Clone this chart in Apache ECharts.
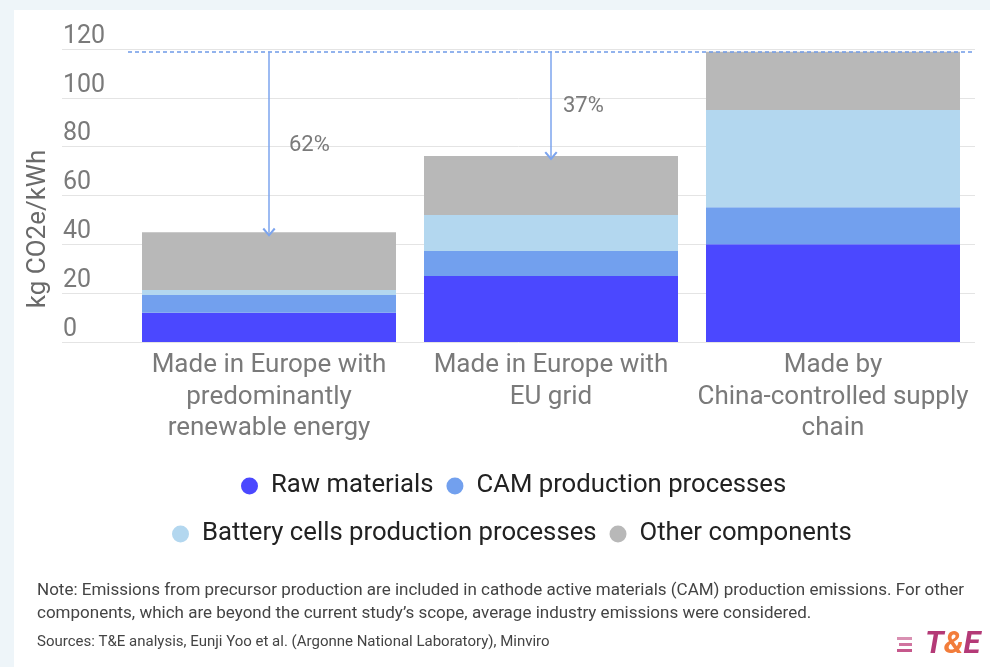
<!DOCTYPE html>
<html>
<head>
    <meta charset="UTF-8">
    <script type="text/javascript" src="https://cdn.jsdelivr.net/npm/echarts@6/dist/echarts.min.js"></script>
    <style>
        html, body { margin: 0; padding: 0; background: #eef5f9; }
        #panel { position: absolute; left: 14px; top: 10px; width: 976px; height: 657px; background: #ffffff; }
        #myDiv { position: absolute; left: 0; top: 0; width: 990px; height: 667px; }
    </style>
    <script type="text/javascript">
        var categories = [
            'Made in Europe with\npredominantly\nrenewable energy',
            'Made in Europe with\nEU grid',
            'Made by\nChina-controlled supply\nchain'
        ];
        var rawMaterials = [12, 27, 40];
        var camProcesses = [7.2, 10.3, 15.2];
        var batteryCells = [2.1, 14.7, 39.8];
        var otherComponents = [23.6, 24.2, 23.9];
        var reductionLabels = ['62%', '37%'];
        var yTicks = [0, 20, 40, 60, 80, 100, 120];

        var noteLine1 = 'Note: Emissions from precursor production are included in cathode active materials (CAM) production emissions. For other';
        var noteLine2 = 'components, which are beyond the current study\u2019s scope, average industry emissions were considered.';
        var sourcesLine = 'Sources: T&E analysis, Eunji Yoo et al. (Argonne National Laboratory), Minviro';

        window.onload = function () {
            drawChart();
        };

        function drawChart() {
            var totals = [];
            for (var i = 0; i < categories.length; i++) {
                totals.push(rawMaterials[i] + camProcesses[i] + batteryCells[i] + otherComponents[i]);
            }
            var top = Math.max.apply(null, totals);

            // arrows from the China level down to each European bar
            var labelGap = [20, 12];
            var arrows = [];
            var arrowLabels = [];
            for (var j = 0; j < reductionLabels.length; j++) {
                arrows.push([
                    { coord: [j, top] },
                    { coord: [j, totals[j]] }
                ]);
                arrowLabels.push({
                    coord: [j, (top + totals[j]) / 2],
                    value: reductionLabels[j],
                    label: { distance: labelGap[j] }
                });
            }

            var chevron = 'path://M5,0 L10,6 L8.8,7 L5,2.4 L1.2,7 L0,6 Z';
            var font = 'Roboto, "Noto Sans", sans-serif';

            var chart = echarts.init(document.getElementById('myDiv'));
            var option = {
                backgroundColor: 'transparent',
                textStyle: { fontFamily: font },
                grid: [
                    { left: 62, right: 15, top: 49, bottom: 325 },
                    { left: 128, right: 16, top: 49, bottom: 325 }
                ],
                xAxis: [
                    { type: 'category', gridIndex: 0, data: categories, show: false },
                    {
                        type: 'category',
                        gridIndex: 1,
                        data: categories,
                        axisLine: { show: false },
                        axisTick: { show: false },
                        axisLabel: {
                            interval: 0,
                            color: '#7a7a7a',
                            fontSize: 26,
                            lineHeight: 31.5,
                            margin: 8,
                            fontFamily: font
                        }
                    }
                ],
                yAxis: [
                    {
                        type: 'value',
                        gridIndex: 0,
                        min: yTicks[0],
                        max: yTicks[yTicks.length - 1],
                        interval: 20,
                        axisLine: { show: false },
                        axisTick: { show: false },
                        splitLine: { lineStyle: { color: '#e4e4e4', width: 1 } },
                        axisLabel: {
                            inside: true,
                            margin: 1,
                            verticalAlign: 'bottom',
                            padding: [0, 0, 0, 0],
                            color: '#7a7a7a',
                            fontSize: 25,
                            fontFamily: font
                        }
                    },
                    {
                        type: 'value',
                        gridIndex: 1,
                        min: yTicks[0],
                        max: yTicks[yTicks.length - 1],
                        show: false
                    }
                ],
                legend: [
                    {
                        data: ['Raw materials', 'CAM production processes'],
                        left: 236,
                        top: 468,
                        icon: 'circle',
                        itemWidth: 17,
                        itemHeight: 17,
                        itemGap: 13,
                        textStyle: { fontSize: 25.7, color: '#222', fontFamily: font, padding: [0, 0, 0, 8] }
                    },
                    {
                        data: ['Battery cells production processes', 'Other components'],
                        left: 167,
                        top: 516,
                        icon: 'circle',
                        itemWidth: 17,
                        itemHeight: 17,
                        itemGap: 13,
                        textStyle: { fontSize: 25.7, color: '#222', fontFamily: font, padding: [0, 0, 0, 8] }
                    }
                ],
                graphic: [
                    {
                        type: 'text',
                        x: 38,
                        y: 229,
                        rotation: Math.PI / 2,
                        style: {
                            text: 'kg CO2e/kWh',
                            fill: '#6a6a6a',
                            fontSize: 26,
                            fontFamily: font,
                            textAlign: 'center',
                            textVerticalAlign: 'middle'
                        }
                    },
                    {
                        type: 'text',
                        x: 37,
                        y: 591,
                        style: {
                            text: noteLine1,
                            fill: '#444',
                            fontSize: 17,
                            fontFamily: font,
                            textVerticalAlign: 'middle'
                        }
                    },
                    {
                        type: 'text',
                        x: 37,
                        y: 614,
                        style: {
                            text: noteLine2,
                            fill: '#444',
                            fontSize: 17,
                            fontFamily: font,
                            textVerticalAlign: 'middle'
                        }
                    },
                    {
                        type: 'text',
                        x: 37,
                        y: 642,
                        style: {
                            text: sourcesLine,
                            fill: '#444',
                            fontSize: 15,
                            fontFamily: font,
                            textVerticalAlign: 'middle'
                        }
                    },
                    // T&E logo
                    { type: 'rect', shape: { x: 897, y: 637, width: 15, height: 3 }, style: { fill: '#c0467f', opacity: 0.6 } },
                    { type: 'rect', shape: { x: 899, y: 643, width: 13, height: 3 }, style: { fill: '#c0467f', opacity: 0.75 } },
                    { type: 'rect', shape: { x: 897, y: 649, width: 15, height: 3 }, style: { fill: '#c0467f', opacity: 0.9 } },
                    {
                        type: 'text',
                        x: 925,
                        y: 645,
                        style: {
                            text: '{a|T}{b|&}{a|E}',
                            textVerticalAlign: 'middle',
                            rich: {
                                a: { fontSize: 31, fontWeight: 'bold', fontStyle: 'italic', fill: '#b43a77', fontFamily: font },
                                b: { fontSize: 31, fontWeight: 'bold', fontStyle: 'italic', fill: '#f27d3b', fontFamily: font }
                            }
                        }
                    }
                ],
                series: [
                    {
                        name: 'Raw materials',
                        type: 'bar',
                        stack: 'total',
                        xAxisIndex: 1,
                        yAxisIndex: 1,
                        barWidth: 254,
                        itemStyle: { color: '#4b48ff' },
                        data: rawMaterials
                    },
                    {
                        name: 'CAM production processes',
                        type: 'bar',
                        stack: 'total',
                        xAxisIndex: 1,
                        yAxisIndex: 1,
                        itemStyle: { color: '#72a0ee' },
                        data: camProcesses
                    },
                    {
                        name: 'Battery cells production processes',
                        type: 'bar',
                        stack: 'total',
                        xAxisIndex: 1,
                        yAxisIndex: 1,
                        itemStyle: { color: '#b3d7ef' },
                        data: batteryCells
                    },
                    {
                        name: 'Other components',
                        type: 'bar',
                        stack: 'total',
                        xAxisIndex: 1,
                        yAxisIndex: 1,
                        itemStyle: { color: '#b8b8b8' },
                        data: otherComponents,
                        markLine: {
                            silent: true,
                            symbol: ['none', 'none'],
                            label: { show: false },
                            animation: false,
                            data: [
                                { yAxis: top, lineStyle: { type: [4, 3], color: '#6f9ae8', width: 1.5 } }
                            ].concat(arrows.map(function (a) {
                                return [
                                    Object.assign({ symbol: 'none' }, a[0]),
                                    Object.assign({ symbol: chevron, symbolSize: [13, 9], lineStyle: { type: 'solid', color: '#7ca4ee', width: 1.5 } }, a[1])
                                ];
                            }))
                        },
                        markPoint: {
                            silent: true,
                            symbol: 'circle',
                            symbolSize: 0,
                            animation: false,
                            label: {
                                show: true,
                                position: 'right',
                                offset: [0, 3],
                                color: '#7a7a7a',
                                fontSize: 22,
                                fontFamily: font,
                                formatter: function (p) { return p.value; }
                            },
                            data: arrowLabels
                        }
                    }
                ]
            };
            chart.setOption(option);
        }
    </script>
</head>
<body>
    <div id="panel"></div>
    <div id="myDiv"></div>
</body>
</html>
